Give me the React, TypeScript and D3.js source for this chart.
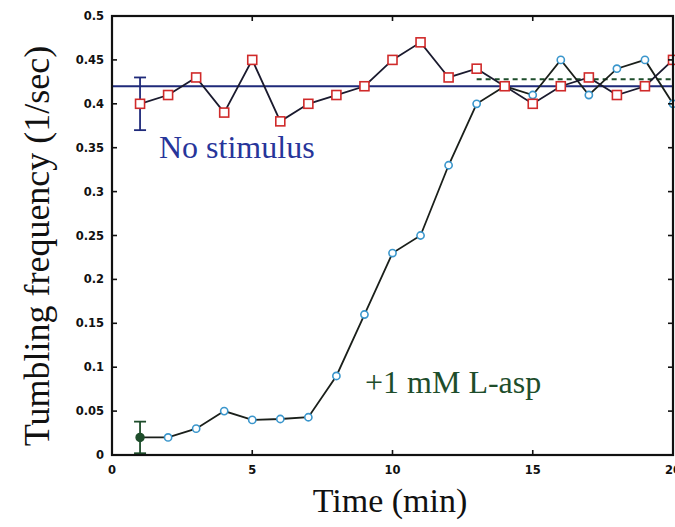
import React from "react";
import * as d3 from "d3";

// minutes
const times = [1, 2, 3, 4, 5, 6, 7, 8, 9, 10, 11, 12, 13, 14, 15, 16, 17, 18, 19, 20];
// tumbling frequency, no stimulus (red squares)
const noStimulus = [0.4, 0.41, 0.43, 0.39, 0.45, 0.38, 0.4, 0.41, 0.42, 0.45, 0.47, 0.43, 0.44, 0.42, 0.4, 0.42, 0.43, 0.41, 0.42, 0.45];
// tumbling frequency after +1 mM L-asp (blue circles)
const lAsp = [0.02, 0.02, 0.03, 0.05, 0.04, 0.041, 0.043, 0.09, 0.16, 0.23, 0.25, 0.33, 0.4, 0.42, 0.41, 0.45, 0.41, 0.44, 0.45, 0.4];
const noStimMean = 0.42;
const adaptedLevel = 0.428;
const adaptedFrom = 13;
const noStimErr = 0.03;
const lAspErr = 0.018;
const xTicks = [0, 5, 10, 15, 20];
const yTicks = [0, 0.05, 0.1, 0.15, 0.2, 0.25, 0.3, 0.35, 0.4, 0.45, 0.5];

const W = 675;
const H = 527;
const left = 112;
const right = 673;
const top = 16;
const bottom = 455;

export default function App() {
  const x = d3.scaleLinear().domain([0, 20]).range([left, right]);
  const y = d3.scaleLinear().domain([0, 0.5]).range([bottom, top]);

  const line = d3
    .line<number>()
    .x((d, i) => x(times[i]))
    .y((d) => y(d));

  const tickFont = { fontFamily: "DejaVu Sans", fontWeight: "bold", fontSize: 11.5 };
  const serif = "Liberation Serif, Times New Roman, serif";

  const errBar = (t: number, v: number, e: number, color: string) => {
    const lo = Math.max(0, v - e);
    return (
      <g stroke={color} strokeWidth={1.8}>
        <line x1={x(t)} x2={x(t)} y1={y(v + e)} y2={y(lo)} />
        <line x1={x(t) - 6} x2={x(t) + 6} y1={y(v + e)} y2={y(v + e)} />
        <line x1={x(t) - 6} x2={x(t) + 6} y1={y(lo)} y2={y(lo)} />
      </g>
    );
  };

  return (
    <svg width={W} height={H} style={{ position: "absolute", left: 0, top: 0 }}>
      <rect width={W} height={H} fill="#fff" />

      {/* reference lines */}
      <line x1={left} x2={right} y1={y(noStimMean)} y2={y(noStimMean)} stroke="#1f2a7a" strokeWidth={2} />
      <line
        x1={x(adaptedFrom)}
        x2={right}
        y1={y(adaptedLevel)}
        y2={y(adaptedLevel)}
        stroke="#1e4d2b"
        strokeWidth={2}
        strokeDasharray="5,4"
      />

      {/* series lines */}
      <path d={line(lAsp) || ""} fill="none" stroke="#1a1f1a" strokeWidth={1.8} />
      <path d={line(noStimulus) || ""} fill="none" stroke="#1a1a2e" strokeWidth={1.8} />

      {errBar(times[0], noStimulus[0], noStimErr, "#1f2a7a")}
      {errBar(times[0], lAsp[0], lAspErr, "#1e4d2b")}

      {/* markers */}
      {lAsp.map((v, i) =>
        i === 0 ? (
          <circle key={i} cx={x(times[i])} cy={y(v)} r={4} fill="#1e4d2b" stroke="#1e4d2b" strokeWidth={1.4} />
        ) : (
          <circle key={i} cx={x(times[i])} cy={y(v)} r={3.6} fill="#fff" stroke="#3a96cc" strokeWidth={1.6} />
        )
      )}
      {noStimulus.map((v, i) => (
        <rect
          key={i}
          x={x(times[i]) - 4.5}
          y={y(v) - 4.5}
          width={9}
          height={9}
          fill="#fff"
          stroke="#d02a2a"
          strokeWidth={1.6}
        />
      ))}

      {/* frame */}
      <rect x={left} y={top} width={right - left} height={bottom - top} fill="none" stroke="#111" strokeWidth={2.2} />

      {/* ticks */}
      {yTicks.map((t) => (
        <g key={"y" + t}>
          <line x1={left} x2={left + 5} y1={y(t)} y2={y(t)} stroke="#111" strokeWidth={1.6} />
          <line x1={right - 5} x2={right} y1={y(t)} y2={y(t)} stroke="#111" strokeWidth={1.6} />
          <text x={left - 8} y={y(t) + 4} textAnchor="end" fill="#111" {...tickFont}>
            {t === 0 ? "0" : d3.format("~g")(t)}
          </text>
        </g>
      ))}
      {xTicks.map((t) => (
        <g key={"x" + t}>
          <line x1={x(t)} x2={x(t)} y1={bottom} y2={bottom - 5} stroke="#111" strokeWidth={1.6} />
          <line x1={x(t)} x2={x(t)} y1={top} y2={top + 5} stroke="#111" strokeWidth={1.6} />
          <text x={x(t)} y={bottom + 19} textAnchor="middle" fill="#111" {...tickFont}>
            {t}
          </text>
        </g>
      ))}

      {/* annotations */}
      <text x={159} y={158} fill="#27359a" fontFamily={serif} fontSize={32}>
        No stimulus
      </text>
      <text x={365} y={393} fill="#1e4d2b" fontFamily={serif} fontSize={32}>
        +1 mM L-asp
      </text>

      {/* axis titles */}
      <text x={390} y={512} textAnchor="middle" fontFamily={serif} fontSize={34} fill="#111">
        Time (min)
      </text>
      <text
        transform={`translate(49, 246) rotate(-90)`}
        textAnchor="middle"
        fontFamily={serif}
        fontSize={36}
        fill="#111"
      >
        Tumbling frequency (1/sec)
      </text>
    </svg>
  );
}
